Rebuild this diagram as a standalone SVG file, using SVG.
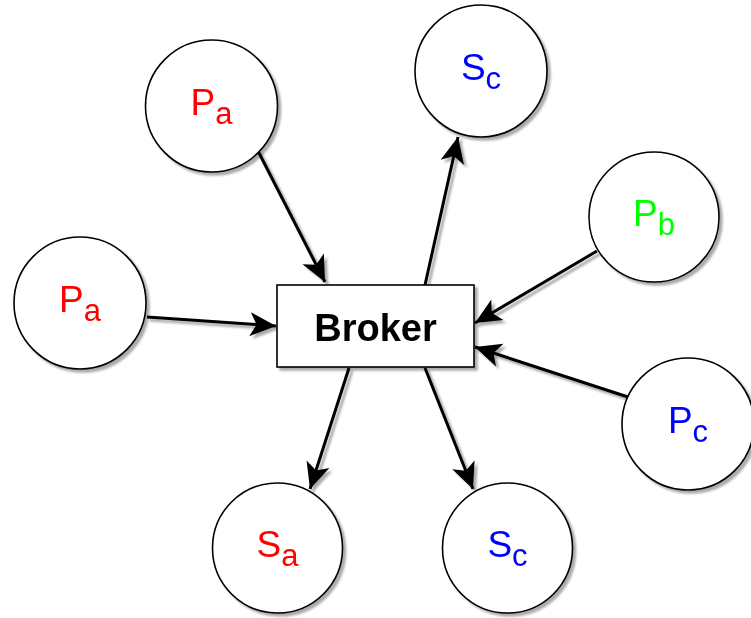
<svg xmlns="http://www.w3.org/2000/svg" width="751" height="618" viewBox="0 0 751 618">
  <style>
    .node { fill: #ffffff; stroke: #000000; stroke-width: 1.6; }
    .label { font-family: "Liberation Sans", Arial, sans-serif; font-size: 37px; text-anchor: middle; }
    .sub { font-size: 31px; }
    .edge { fill: none; stroke: #000000; stroke-width: 3; marker-end: url(#arrow); }
    .red { fill: #ff0000; }
    .blue { fill: #0000ff; }
    .green { fill: #00ff00; }
  </style>
  <defs>
    <filter id="shadow" x="-20%" y="-20%" width="150%" height="150%">
      <feGaussianBlur in="SourceAlpha" stdDeviation="0.8" result="blur"/>
      <feOffset in="blur" dx="3" dy="3" result="off"/>
      <feFlood flood-color="#000000" flood-opacity="0.33"/>
      <feComposite in2="off" operator="in" result="shade"/>
      <feMerge>
        <feMergeNode in="shade"/>
        <feMergeNode in="SourceGraphic"/>
      </feMerge>
    </filter>
    <marker id="arrow" markerUnits="userSpaceOnUse" markerWidth="30" markerHeight="26" viewBox="-28 -13 30 26" refX="0" refY="0" orient="auto">
      <path d="M0,0 L-26,-12 L-19.5,0 L-26,12 Z" fill="#000000"/>
    </marker>
  </defs>

  <!-- connectors -->
  <g id="edges" filter="url(#shadow)">
    <line class="edge" x1="258" y1="151" x2="325" y2="282"/>
    <line class="edge" x1="147" y1="317" x2="276" y2="326"/>
    <line class="edge" x1="425" y1="285" x2="458" y2="137"/>
    <line class="edge" x1="597" y1="251" x2="475" y2="323"/>
    <line class="edge" x1="628" y1="397" x2="475" y2="347"/>
    <line class="edge" x1="349" y1="368" x2="310" y2="489"/>
    <line class="edge" x1="425" y1="368" x2="473" y2="489"/>
  </g>

  <!-- broker -->
  <g id="broker" filter="url(#shadow)">
    <rect class="node" x="277" y="285" width="197" height="82"/>
    <text x="375.5" y="341" font-family="'Liberation Sans', Arial, sans-serif" font-size="38" font-weight="bold" text-anchor="middle" fill="#000000">Broker</text>
  </g>

  <!-- publishers -->
  <g id="pub-a-top" filter="url(#shadow)">
    <circle class="node" cx="211.5" cy="106" r="66"/>
    <text class="label red" x="211.5" y="115">P<tspan class="sub" dy="9">a</tspan></text>
  </g>
  <g id="pub-a-left" filter="url(#shadow)">
    <circle class="node" cx="80" cy="303" r="66"/>
    <text class="label red" x="80" y="312">P<tspan class="sub" dy="9">a</tspan></text>
  </g>
  <g id="pub-b" filter="url(#shadow)">
    <circle class="node" cx="654" cy="217" r="65"/>
    <text class="label green" x="654" y="226">P<tspan class="sub" dy="9">b</tspan></text>
  </g>
  <g id="pub-c" filter="url(#shadow)">
    <circle class="node" cx="688" cy="424" r="66"/>
    <text class="label blue" x="688" y="433">P<tspan class="sub" dy="9">c</tspan></text>
  </g>

  <!-- subscribers -->
  <g id="sub-c-top" filter="url(#shadow)">
    <circle class="node" cx="481" cy="71" r="66"/>
    <text class="label blue" x="481" y="80">S<tspan class="sub" dy="9">c</tspan></text>
  </g>
  <g id="sub-a" filter="url(#shadow)">
    <circle class="node" cx="277.5" cy="548" r="65"/>
    <text class="label red" x="277.5" y="557">S<tspan class="sub" dy="9">a</tspan></text>
  </g>
  <g id="sub-c-bottom" filter="url(#shadow)">
    <circle class="node" cx="507.5" cy="548" r="65"/>
    <text class="label blue" x="507.5" y="557">S<tspan class="sub" dy="9">c</tspan></text>
  </g>
</svg>
